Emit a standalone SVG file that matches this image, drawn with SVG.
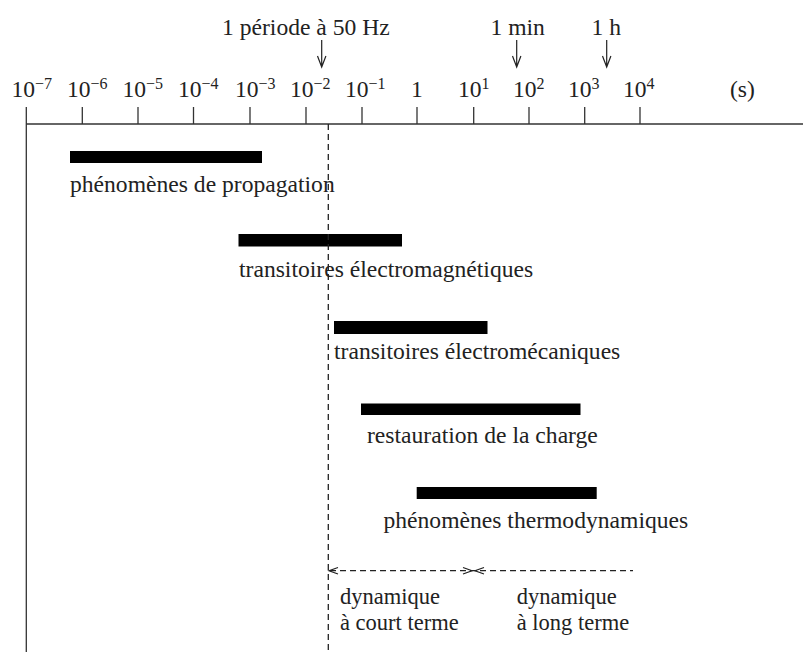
<svg xmlns="http://www.w3.org/2000/svg" width="803" height="652" viewBox="0 0 803 652">
<style>
text{font-family:"Liberation Serif","Times New Roman",serif;font-size:23.6px;fill:#222}
.sup{font-size:16px}
.dyn{font-size:22.5px}
.ax{stroke:#333;stroke-width:1.6;fill:none}
.tk{stroke:#333;stroke-width:1.3;fill:none}
.ar{stroke:#222;stroke-width:1.2;fill:none}
.bar{fill:#000}
.dash{stroke:#222;stroke-width:1.3;stroke-dasharray:6 4;fill:none}
</style>
<rect width="803" height="652" fill="#fff"/>
<g id="axis">
<line class="ax" x1="26" y1="124" x2="803" y2="124"/>
<line class="tk" x1="26.3" y1="107" x2="26.3" y2="652"/>
<line class="tk" x1="82.3" y1="107" x2="82.3" y2="124"/>
<line class="tk" x1="138" y1="107" x2="138" y2="124"/>
<line class="tk" x1="193.5" y1="107" x2="193.5" y2="124"/>
<line class="tk" x1="250" y1="107" x2="250" y2="124"/>
<line class="tk" x1="306" y1="107" x2="306" y2="124"/>
<line class="tk" x1="362" y1="107" x2="362" y2="124"/>
<line class="tk" x1="417" y1="107" x2="417" y2="124"/>
<line class="tk" x1="473.7" y1="107" x2="473.7" y2="124"/>
<line class="tk" x1="529" y1="107" x2="529" y2="124"/>
<line class="tk" x1="584.7" y1="107" x2="584.7" y2="124"/>
<line class="tk" x1="640" y1="107" x2="640" y2="124"/>
<text x="11.5" y="97">10<tspan class="sup" dy="-8">−7</tspan></text>
<text x="67" y="97">10<tspan class="sup" dy="-8">−6</tspan></text>
<text x="122.5" y="97">10<tspan class="sup" dy="-8">−5</tspan></text>
<text x="178" y="97">10<tspan class="sup" dy="-8">−4</tspan></text>
<text x="235" y="97">10<tspan class="sup" dy="-8">−3</tspan></text>
<text x="290" y="97">10<tspan class="sup" dy="-8">−2</tspan></text>
<text x="345" y="97">10<tspan class="sup" dy="-8">−1</tspan></text>
<text x="417" y="97" text-anchor="middle">1</text>
<text x="458" y="97">10<tspan class="sup" dy="-8">1</tspan></text>
<text x="513" y="97">10<tspan class="sup" dy="-8">2</tspan></text>
<text x="568" y="97">10<tspan class="sup" dy="-8">3</tspan></text>
<text x="623" y="97">10<tspan class="sup" dy="-8">4</tspan></text>
<text x="730" y="97">(s)</text>
</g>
<g id="marker-50hz">
<text x="222" y="35">1 période à 50 Hz</text>
<path class="ar" d="M321.7,40 V67 M317.5,56 L321.7,67 L325.9,56"/>
</g>
<g id="marker-1min">
<text x="490.5" y="35">1 min</text>
<path class="ar" d="M516.7,40 V67 M512.5,56 L516.7,67 L520.9,56"/>
</g>
<g id="marker-1h">
<text x="591.5" y="35">1 h</text>
<path class="ar" d="M606.7,40 V67 M602.5,56 L606.7,67 L610.9,56" stroke-width="1.6"/>
</g>
<g id="propagation">
<rect class="bar" x="70" y="151" width="192" height="12"/>
<text x="70" y="192">phénomènes de propagation</text>
</g>
<g id="electromagnetiques">
<rect class="bar" x="238.5" y="234" width="163.5" height="12.5"/>
<text x="239" y="277">transitoires électromagnétiques</text>
</g>
<g id="electromecaniques">
<rect class="bar" x="334" y="321" width="153.5" height="13"/>
<text x="334" y="359">transitoires électromécaniques</text>
</g>
<g id="restauration">
<rect class="bar" x="361" y="403.5" width="219.5" height="11.5"/>
<text x="367" y="443">restauration de la charge</text>
</g>
<g id="thermodynamiques">
<rect class="bar" x="416.7" y="487" width="180" height="12"/>
<text x="383.5" y="528">phénomènes thermodynamiques</text>
</g>
<g id="connectors">
<line class="dash" x1="328.3" y1="124" x2="328.3" y2="652"/>
<line class="dash" x1="330" y1="570.7" x2="633" y2="570.7" stroke-dasharray="7 5"/>
<path class="ar" d="M338,567.5 L329,570.7 L338,574 M463,567.5 L472,570.7 L463,574 M484,567.5 L475,570.7 L484,574"/>
</g>
<g id="court-terme">
<text class="dyn" x="340" y="603.5">dynamique</text>
<text class="dyn" x="340" y="630">à court terme</text>
</g>
<g id="long-terme">
<text class="dyn" x="516.7" y="603.5">dynamique</text>
<text class="dyn" x="516.7" y="630">à long terme</text>
</g>
</svg>
